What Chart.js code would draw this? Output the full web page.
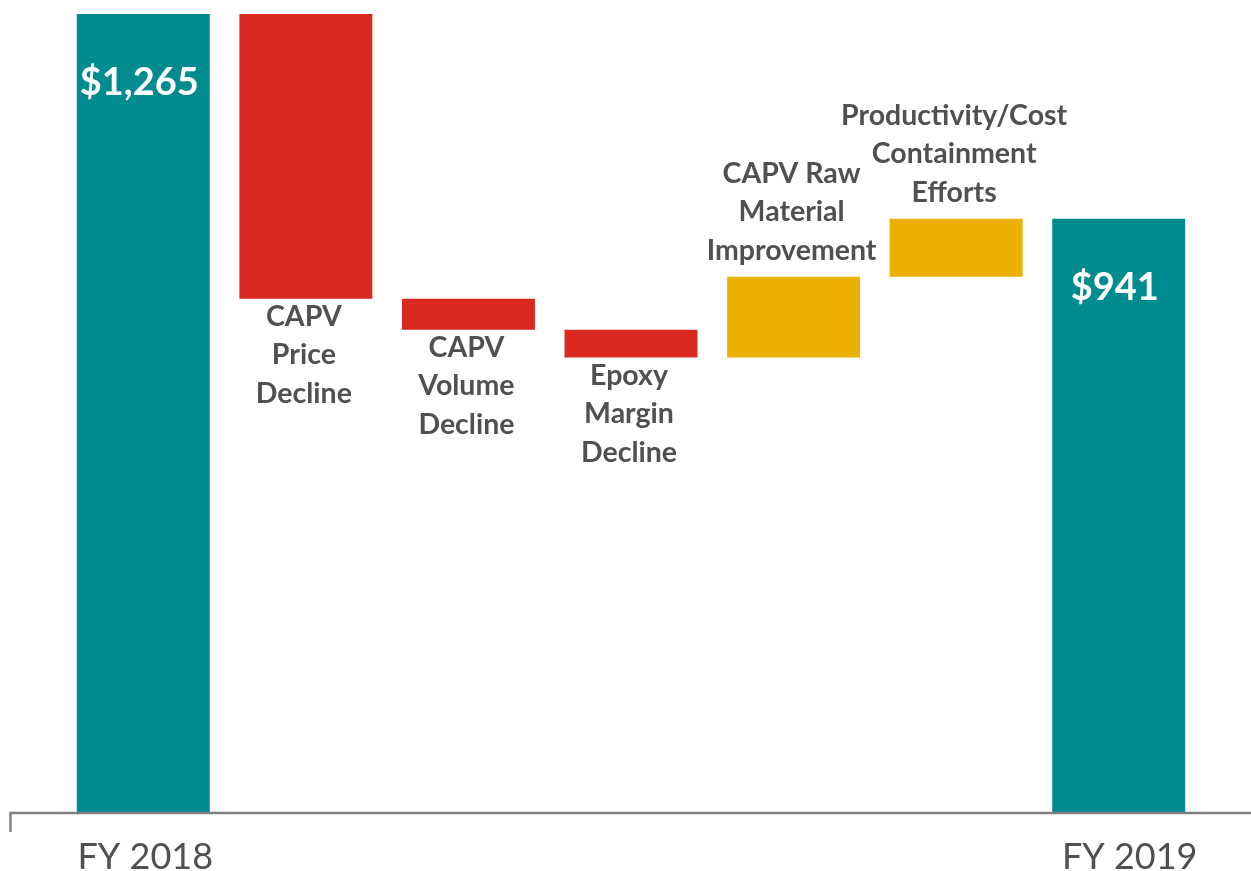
<!DOCTYPE html>
<html>
<head>
<meta charset="utf-8">
<script src="https://cdn.jsdelivr.net/npm/chart.js@4.4.1/dist/chart.umd.min.js"></script>
<style>
    html, body { margin: 0; padding: 0; background: #ffffff; }
    #wrap { width: 1251px; height: 871px; }
</style>
</head>
<body>
<div id="wrap"><canvas id="bridge"></canvas></div>
<script>
(function () {
    'use strict';

    // =========================================================================
    // Data
    // =========================================================================

    var categories = ['FY 2018', 'CAPV Price Decline', 'CAPV Volume Decline', 'Epoxy Margin Decline',
        'CAPV Raw Material Improvement', 'Productivity/Cost Containment Efforts', 'FY 2019'];
    var startValue = 1265;
    var changes = [-451, -49, -44, 128, 92];
    var endValue = 941;
    var tickLabels = ['FY 2018', '', '', '', '', '', 'FY 2019'];
    var valueLabels = ['$1,265', '', '', '', '', '', '$941'];
    var stepLabels = [
        [],
        ['CAPV', 'Price', 'Decline'],
        ['CAPV', 'Volume', 'Decline'],
        ['Epoxy', 'Margin', 'Decline'],
        ['CAPV Raw', 'Material', 'Improvement'],
        ['Productivity/Cost', 'Containment', 'Efforts'],
        []
    ];

    var TEAL = '#008b8f';
    var RED = '#da291e';
    var GOLD = '#ecb100';
    var TEXT = '#505050';
    var FONT = 'Lato, "Open Sans", sans-serif';

    // floating ranges for the bridge
    var ranges = [[0, startValue]];
    var colors = [TEAL];
    var running = startValue;
    changes.forEach(function (d) {
        var next = running + d;
        ranges.push([Math.min(running, next), Math.max(running, next)]);
        colors.push(d < 0 ? RED : GOLD);
        running = next;
    });
    ranges.push([0, endValue]);
    colors.push(TEAL);

    // =========================================================================
    // Labels + axis line
    // =========================================================================

    var bridgeLabels = {
        id: 'bridgeLabels',
        afterDatasetsDraw: function (chart) {
            var ctx = chart.ctx;
            var x = chart.scales.x;
            var y = chart.scales.y;
            var area = chart.chartArea;

            ctx.save();
            ctx.textAlign = 'center';
            ctx.textBaseline = 'alphabetic';

            // totals inside the teal bars
            ctx.fillStyle = '#ffffff';
            ctx.font = 'bold 38px ' + FONT;
            valueLabels.forEach(function (txt, i) {
                if (!txt) return;
                ctx.fillText(txt, x.getPixelForValue(i) - 4, y.getPixelForValue(ranges[i][1]) + 81);
            });

            // step captions
            ctx.fillStyle = TEXT;
            ctx.font = 'bold 28.5px ' + FONT;
            var lh = 38.5;
            stepLabels.forEach(function (lines, i) {
                if (!lines.length) return;
                var cx = x.getPixelForValue(i) - 2;
                if (i <= changes.length && changes[i - 1] < 0) {
                    var top = y.getPixelForValue(ranges[i][0]) + 27;
                    lines.forEach(function (l, k) { ctx.fillText(l, cx, top + k * lh); });
                } else {
                    var bottom = y.getPixelForValue(ranges[i][1]) - 17;
                    lines.forEach(function (l, k) {
                        ctx.fillText(l, cx, bottom - (lines.length - 1 - k) * lh);
                    });
                }
            });

            // category names under the axis (the right one sits a little right of its bar)
            ctx.font = '36px ' + FONT;
            ctx.fillStyle = TEXT;
            tickLabels.forEach(function (txt, i) {
                if (!txt) return;
                var shift = i === tickLabels.length - 1 ? 11 : 2;
                ctx.fillText(txt, x.getPixelForValue(i) + shift, area.bottom + 56);
            });

            // axis line with the small left tick
            ctx.strokeStyle = '#808080';
            ctx.lineWidth = 2.5;
            ctx.beginPath();
            ctx.moveTo(10.5, area.bottom + 19);
            ctx.lineTo(10.5, area.bottom);
            ctx.lineTo(chart.width, area.bottom);
            ctx.stroke();
            ctx.restore();
        }
    };

    // =========================================================================
    // Chart
    // =========================================================================

    new Chart(document.getElementById('bridge'), {
        type: 'bar',
        data: {
            labels: categories,
            datasets: [{
                data: ranges,
                backgroundColor: colors,
                borderWidth: 0,
                barPercentage: 0.818,
                categoryPercentage: 1
            }]
        },
        options: {
            responsive: true,
            maintainAspectRatio: false,
            animation: false,
            layout: { padding: { top: 14, left: 62, right: 51, bottom: 58 } },
            plugins: {
                legend: { display: false },
                tooltip: { enabled: false }
            },
            scales: {
                x: { display: false },
                y: { display: false, min: 0, max: startValue }
            }
        },
        plugins: [bridgeLabels]
    });
})();
</script>
</body>
</html>
